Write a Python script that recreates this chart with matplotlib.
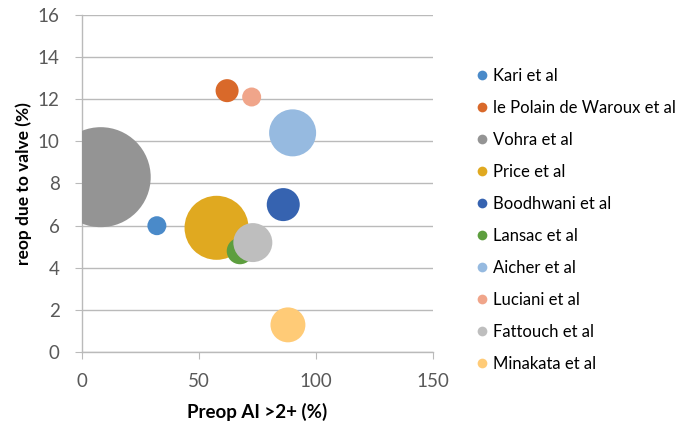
import matplotlib
matplotlib.use("Agg")
import matplotlib.pyplot as plt
from matplotlib.lines import Line2D

plt.rcParams['font.family'] = ['Lato', 'DejaVu Sans']

# data
studies = ['Kari et al', 'le Polain de Waroux et al', 'Vohra et al', 'Price et al',
           'Boodhwani et al', 'Lansac et al', 'Aicher et al', 'Luciani et al',
           'Fattouch et al', 'Minakata et al']
preop_ai = [32, 62, 8, 57.5, 86, 67.5, 90, 72.5, 73, 88]
reop_valve = [6.0, 12.4, 8.3, 5.9, 7.0, 4.8, 10.4, 12.1, 5.2, 1.3]
bubble = [36, 53, 1000, 410, 109, 70, 221, 36, 152, 122]
colors = ['#4A8AC9', '#D9692A', '#949494', '#E0A920', '#3663B0',
          '#5D9E3E', '#96BAE0', '#F0A58A', '#BEBEBE', '#FFCB77']

fig = plt.figure(figsize=(6.99, 4.26), dpi=100)
ax = fig.add_axes([0.1173, 0.173, 0.5022, 0.7925])

# largest bubble is about 100 px across
max_d_pt = 100 * 0.72
for x, y, b, c in zip(preop_ai, reop_valve, bubble, colors):
    ax.scatter(x, y, s=(b / max(bubble)) * max_d_pt ** 2, color=c,
               edgecolors='none', zorder=3)

ax.set_xlim(0, 150)
ax.set_ylim(0, 16)
ax.set_xticks([0, 50, 100, 150])
ax.set_yticks(range(0, 17, 2))
ax.grid(axis='y', color='#BABABA', linewidth=1.0, zorder=0)
for s in ['top', 'right']:
    ax.spines[s].set_visible(False)
for s in ['left', 'bottom']:
    ax.spines[s].set_color('#BABABA')
    ax.spines[s].set_linewidth(1.0)
ax.tick_params(length=5, color='#BABABA', labelcolor='#595959', labelsize=13.5)
ax.tick_params(axis='x', pad=10)
ax.tick_params(axis='y', pad=11)

ax.set_xlabel('Preop AI >2+ (%)', fontsize=13.5, fontweight='bold', labelpad=9)
ax.set_ylabel('reop due to valve (%)', fontsize=12.5, fontweight='bold', labelpad=4)

handles = [Line2D([], [], marker='o', linestyle='none', markersize=7,
                  markerfacecolor=c, markeredgecolor='none') for c in colors]
fig.legend(handles, studies, loc='upper left', bbox_to_anchor=(0.67, 0.857),
           frameon=False, fontsize=12, handlelength=0.8, handletextpad=0.3,
           labelspacing=0.96, borderaxespad=0)

fig.savefig('out.png', dpi=100)
